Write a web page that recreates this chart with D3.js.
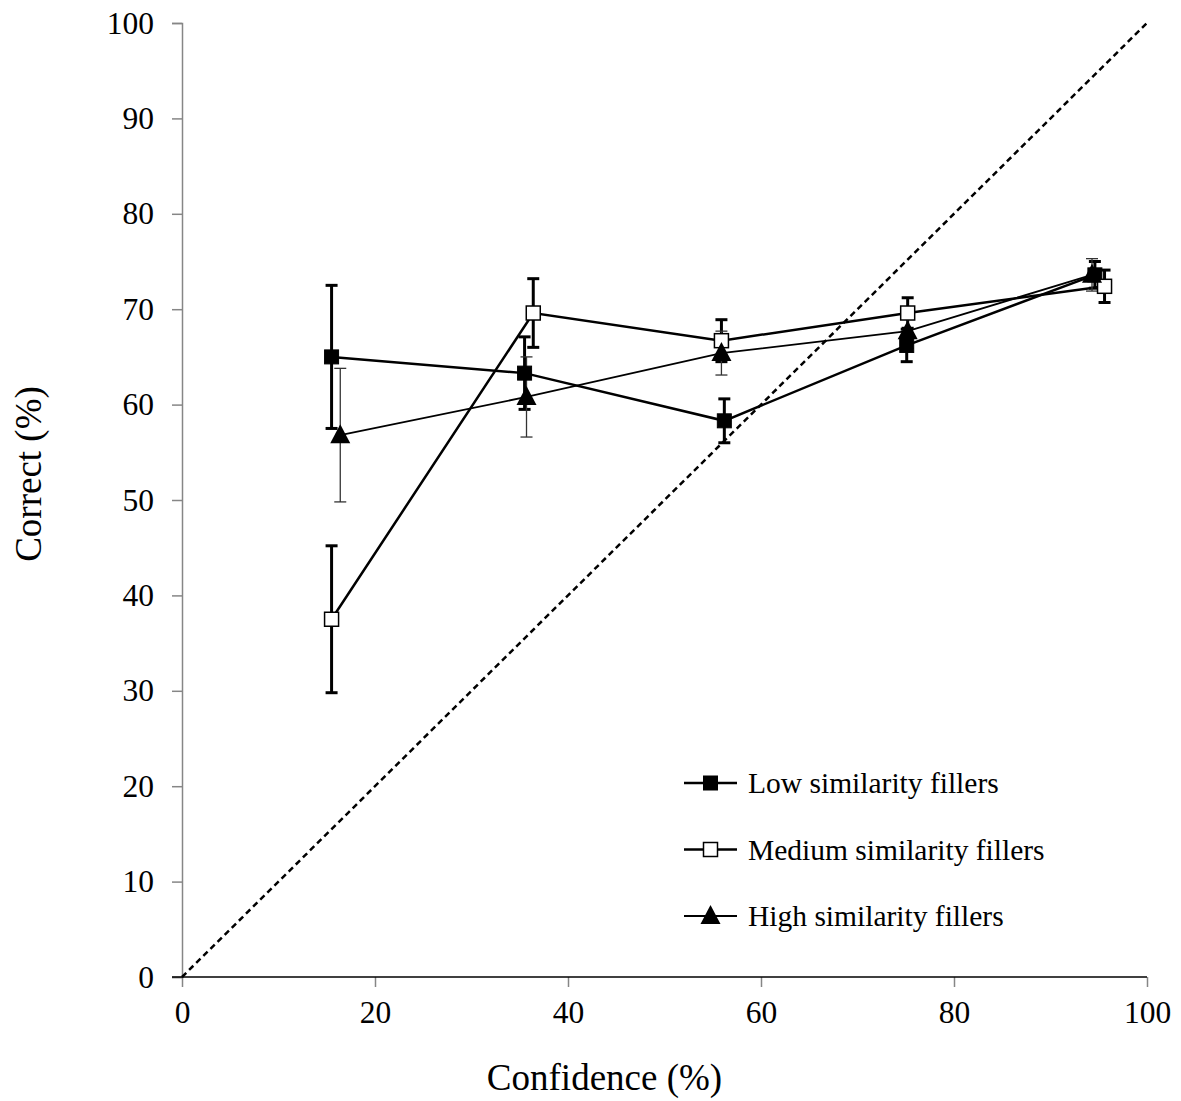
<!DOCTYPE html>
<html>
<head>
<meta charset="utf-8">
<script src="https://cdn.jsdelivr.net/npm/d3@7"></script>
<style>
  body { margin: 0; background: #fff; }
  text { font-family: "Liberation Serif", "Times New Roman", serif; fill: #000; }
</style>
</head>
<body>
<div id="chart-area"></div>
<script>
// data
var seriesNames = ["Low similarity fillers", "Medium similarity fillers", "High similarity fillers"];
var lowConf = [15.5, 35.5, 56.2, 75.1, 94.6];
var lowCorrect = [65.0, 63.3, 58.3, 66.2, 73.6];
var lowErr = [7.5, 3.8, 2.3, 1.7, 1.4];
var medConf = [15.5, 36.4, 55.9, 75.2, 95.6];
var medCorrect = [37.5, 69.6, 66.7, 69.6, 72.4];
var medErr = [7.7, 3.6, 2.2, 1.6, 1.7];
var highConf = [16.4, 35.7, 55.9, 75.2, 94.3];
var highCorrect = [56.8, 60.8, 65.4, 67.7, 73.6];
var highErr = [7.0, 4.2, 2.3, 1.8, 1.7];
var xTicks = [0, 20, 40, 60, 80, 100];
var yTicks = [0, 10, 20, 30, 40, 50, 60, 70, 80, 90, 100];

var margin = { left: 182, right: 34, top: 23, bottom: 124 };
var width = 1181 - margin.left - margin.right,
    height = 1101 - margin.top - margin.bottom;

var svg = d3.select("#chart-area")
    .append("svg")
        .attr("width", 1181)
        .attr("height", 1101);
var g = svg.append("g")
    .attr("transform", "translate(" + margin.left + "," + margin.top + ")");

// Scales
var x = d3.scaleLinear().domain([0, 100]).range([0, width]);
var y = d3.scaleLinear().domain([0, 100]).range([height, 0]);

// Y axis
var yAxisCall = d3.axisLeft(y).tickValues(yTicks).tickSize(10).tickPadding(18);
var yAxis = g.append("g").call(yAxisCall);
yAxis.select(".domain").attr("stroke", "#868686").attr("stroke-width", 1.5);
yAxis.selectAll(".tick line").attr("stroke", "#868686").attr("stroke-width", 1.5);
yAxis.selectAll("text").attr("font-size", "31.5px").attr("font-family", "Liberation Serif, serif");

// X axis
var xAxisCall = d3.axisBottom(x).tickValues(xTicks).tickSize(10).tickPadding(14);
var xAxis = g.append("g")
    .attr("transform", "translate(0," + height + ")")
    .call(xAxisCall);
xAxis.select(".domain").remove();
xAxis.selectAll(".tick line").attr("stroke", "#868686").attr("stroke-width", 1.5);
xAxis.selectAll("text").attr("font-size", "31.5px").attr("font-family", "Liberation Serif, serif");
g.append("line")
    .attr("x1", -10).attr("x2", width)
    .attr("y1", height).attr("y2", height)
    .attr("stroke", "#000").attr("stroke-width", 1.5);

// Axis labels
g.append("text")
    .attr("x", width / 2 - 60)
    .attr("y", height + 113)
    .attr("font-size", "37px")
    .attr("text-anchor", "middle")
    .text("Confidence (%)");
g.append("text")
    .attr("transform", "rotate(-90)")
    .attr("x", -451)
    .attr("y", -141)
    .attr("font-size", "37px")
    .attr("text-anchor", "middle")
    .text("Correct (%)");

// Diagonal reference
g.append("line")
    .attr("x1", x(0)).attr("y1", y(0))
    .attr("x2", x(100)).attr("y2", y(100))
    .attr("stroke", "#000")
    .attr("stroke-width", 2.5)
    .attr("stroke-dasharray", "6,4");

var series = [
    { name: seriesNames[0], conf: lowConf, correct: lowCorrect, err: lowErr, marker: "fsquare", lw: 2.5, ew: 3 },
    { name: seriesNames[1], conf: medConf, correct: medCorrect, err: medErr, marker: "osquare", lw: 2.5, ew: 3 },
    { name: seriesNames[2], conf: highConf, correct: highCorrect, err: highErr, marker: "triangle", lw: 1.8, ew: 1.3 }
];

var line = d3.line()
    .x(function(d){ return x(d.c); })
    .y(function(d){ return y(d.v); });

function points(s) {
    return s.conf.map(function(c, i){ return { c: c, v: s.correct[i], e: s.err[i] }; });
}

function drawMarker(sel, type) {
    if (type === "triangle") {
        sel.append("path")
            .attr("d", "M0,-11L10,8L-10,8Z")
            .attr("fill", "#000");
    } else {
        sel.append("rect")
            .attr("x", -7).attr("y", -7)
            .attr("width", 14).attr("height", 14)
            .attr("fill", type === "fsquare" ? "#000" : "#fff")
            .attr("stroke", "#000")
            .attr("stroke-width", type === "fsquare" ? 1 : 1.5);
    }
}

// lines
series.forEach(function(s){
    g.append("path")
        .datum(points(s))
        .attr("fill", "none")
        .attr("stroke", "#000")
        .attr("stroke-width", s.lw)
        .attr("d", line);
});

// error bars
series.forEach(function(s){
    var eb = g.append("g");
    points(s).forEach(function(d){
        var col = s.ew < 2 ? "#333" : "#000";
        eb.append("line")
            .attr("x1", x(d.c)).attr("x2", x(d.c))
            .attr("y1", y(d.v - d.e)).attr("y2", y(d.v + d.e))
            .attr("stroke", col).attr("stroke-width", s.ew);
        [d.v - d.e, d.v + d.e].forEach(function(v){
            eb.append("line")
                .attr("x1", x(d.c) - 6).attr("x2", x(d.c) + 6)
                .attr("y1", y(v)).attr("y2", y(v))
                .attr("stroke", col).attr("stroke-width", s.ew);
        });
    });
});

// markers
series.forEach(function(s){
    points(s).forEach(function(d){
        var m = g.append("g")
            .attr("transform", "translate(" + x(d.c) + "," + y(d.v) + ")");
        drawMarker(m, s.marker);
    });
});

// Legend
var legend = g.append("g")
    .attr("transform", "translate(" + (684 - margin.left) + "," + (783 - margin.top) + ")");
series.forEach(function(s, i){
    var row = legend.append("g")
        .attr("transform", "translate(0," + (i * 66.5) + ")");
    row.append("line")
        .attr("x1", 0).attr("x2", 53)
        .attr("y1", 0).attr("y2", 0)
        .attr("stroke", "#000")
        .attr("stroke-width", s.lw);
    var m = row.append("g").attr("transform", "translate(26.5,0)");
    drawMarker(m, s.marker);
    row.append("text")
        .attr("x", 64)
        .attr("y", 10)
        .attr("font-size", "29.5px")
        .text(s.name);
});
</script>
</body>
</html>
